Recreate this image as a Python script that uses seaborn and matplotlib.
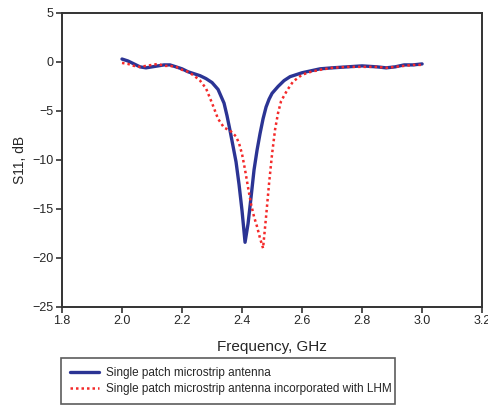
import matplotlib
matplotlib.use("Agg")
import matplotlib.pyplot as plt
import seaborn as sns
import pandas as pd

# single patch antenna (blue, solid)
freq_patch = [2.00, 2.02, 2.04, 2.06, 2.08, 2.10, 2.12, 2.14, 2.16, 2.18,
              2.20, 2.22, 2.24, 2.26, 2.28, 2.30, 2.32, 2.34, 2.35, 2.36,
              2.37, 2.38, 2.39, 2.40, 2.41, 2.42, 2.43, 2.44, 2.45, 2.46,
              2.47, 2.48, 2.49, 2.50, 2.52, 2.54, 2.56, 2.58, 2.60, 2.63,
              2.66, 2.70, 2.75, 2.80, 2.85, 2.88, 2.91, 2.94, 2.97, 3.00]
s11_patch = [0.3, 0.1, -0.2, -0.5, -0.6, -0.5, -0.4, -0.3, -0.3, -0.5,
             -0.7, -1.0, -1.2, -1.4, -1.7, -2.1, -2.8, -4.2, -5.5, -7.0,
             -8.6, -10.2, -12.5, -15.2, -18.4, -16.5, -13.8, -11.0, -9.0, -7.3,
             -5.8, -4.6, -3.8, -3.2, -2.5, -1.9, -1.5, -1.3, -1.1, -0.9,
             -0.7, -0.6, -0.5, -0.4, -0.5, -0.6, -0.5, -0.3, -0.3, -0.2]

# patch with LHM (red, dotted)
freq_lhm = [2.00, 2.02, 2.04, 2.06, 2.08, 2.10, 2.12, 2.14, 2.16, 2.18,
            2.20, 2.22, 2.24, 2.26, 2.28, 2.30, 2.32, 2.34, 2.36, 2.38,
            2.39, 2.40, 2.41, 2.42, 2.43, 2.44, 2.45, 2.46, 2.47, 2.48,
            2.49, 2.50, 2.51, 2.52, 2.53, 2.55, 2.57, 2.60, 2.63, 2.66,
            2.70, 2.75, 2.80, 2.85, 2.88, 2.91, 2.94, 2.97, 3.00]
s11_lhm = [-0.1, -0.2, -0.4, -0.5, -0.4, -0.3, -0.2, -0.4, -0.4, -0.5,
           -0.8, -1.0, -1.4, -1.9, -2.7, -4.2, -5.8, -6.7, -7.0, -7.6,
           -8.3, -9.4, -11.0, -12.8, -14.5, -15.8, -16.8, -18.0, -19.0, -15.8,
           -12.4, -9.4, -6.9, -5.2, -4.0, -2.9, -2.0, -1.3, -1.0, -0.8,
           -0.6, -0.5, -0.5, -0.5, -0.6, -0.5, -0.4, -0.3, -0.3]

label_patch = "Single patch microstrip antenna"
label_lhm = "Single patch microstrip antenna incorporated with LHM"

sns.set_theme(style="ticks")
plt.rcParams["font.family"] = ["Liberation Sans", "DejaVu Sans"]

fig = plt.figure(figsize=(4.88, 4.05), dpi=100)
ax = fig.add_axes([0.127, 0.242, 0.861, 0.726])

df_patch = pd.DataFrame({"f": freq_patch, "s11": s11_patch})
df_lhm = pd.DataFrame({"f": freq_lhm, "s11": s11_lhm})

sns.lineplot(data=df_patch, x="f", y="s11", ax=ax, color="#2b3494",
             linewidth=2.4, label=label_patch)
sns.lineplot(data=df_lhm, x="f", y="s11", ax=ax, color="#f42a2a",
             linewidth=1.8, linestyle=(0, (1, 1.2)), label=label_lhm)

ax.set_xlim(1.8, 3.2)
ax.set_ylim(-25, 5)
ax.set_xticks([1.8, 2.0, 2.2, 2.4, 2.6, 2.8, 3.0, 3.2])
ax.set_xticklabels(["1.8", "2.0", "2.2", "2.4", "2.6", "2.8", "3.0", "3.2"])
ax.set_yticks([5, 0, -5, -10, -15, -20, -25])
ax.tick_params(labelsize=9, length=4, width=1.2, color="#333333", pad=2)
ax.set_xlabel("Frequency, GHz", fontsize=11, labelpad=9)
ax.set_ylabel("S11, dB", fontsize=10, labelpad=4)
for sp in ax.spines.values():
    sp.set_color("#333333")
    sp.set_linewidth(1.4)

handles, labels = ax.get_legend_handles_labels()
ax.get_legend().remove()
leg = fig.legend(handles, labels, loc="lower left",
                 bbox_to_anchor=(0.125, 0.003, 0.684, 0.111), mode="expand",
                 fontsize=8.5, frameon=True, fancybox=False, handlelength=2.5,
                 borderaxespad=0, borderpad=0.75, labelspacing=0.35,
                 handletextpad=0.55)
leg.get_frame().set_edgecolor("#333333")
leg.get_frame().set_linewidth(1.2)

fig.savefig("out.png", dpi=100)
